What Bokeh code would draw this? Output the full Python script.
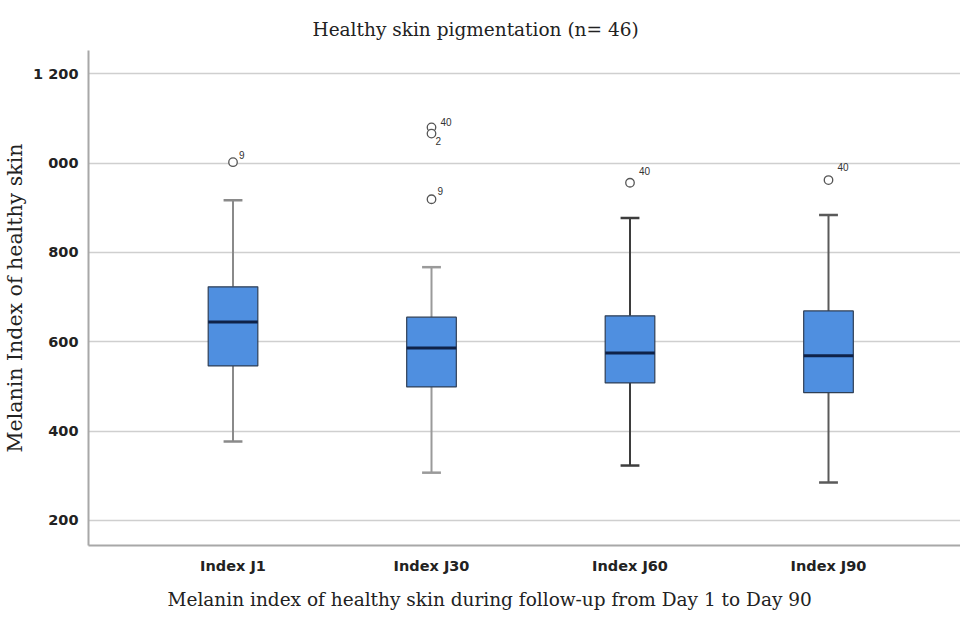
from bokeh.plotting import figure
from bokeh.embed import file_html
from bokeh.resources import INLINE
from bokeh.models import ColumnDataSource, FixedTicker, Range1d, Title
from bokeh.core.properties import value

# ---- data ----
categories = ["Index J1", "Index J30", "Index J60", "Index J90"]
lower_whisker = [377, 307, 323, 285]
q1 = [546, 499, 508, 486]
median = [644, 586, 575, 569]
q3 = [723, 655, 658, 669]
upper_whisker = [917, 767, 877, 884]

outlier_group = [1, 2, 2, 2, 3, 4]
outlier_value = [1002, 1080, 1066, 919, 956, 962]
outlier_id = ["9", "40", "2", "9", "40", "40"]

y_ticks = [200, 400, 600, 800, 1000, 1200]
y_tick_labels = ["200", "400", "600", "800", "000", "1 200"]

title_text = "Healthy skin pigmentation (n= 46)"
x_label_text = "Melanin index of healthy skin during follow-up from Day 1 to Day 90"
y_label_text = "Melanin Index of healthy skin"

# ---- styles ----
BOX_W = 0.25
CAP_W = 0.095
box_fill = "#4f8fe0"
whisker_colors = ["#8a8a8a", "#9a9a9a", "#3d3d3d", "#5a5a5a"]
label_dx = [6, 9, 4, 6, 9, 9]
label_dy = [-7, -5, 7, -8, -12, -13]
SERIF = "DejaVu Serif"

xs = [i + 1 for i in range(len(categories))]

p = figure(width=960, height=619, output_backend="svg", toolbar_location=None,
           x_range=Range1d(0.272, 4.665), y_range=Range1d(144, 1252),
           min_border_left=88, min_border_right=0, min_border_top=50,
           min_border_bottom=73)
p.outline_line_color = None
p.background_fill_color = "white"

p.title.text = title_text
p.title.text_font = SERIF
p.title.text_font_style = "normal"
p.title.text_font_size = "18.5px"
p.title.text_color = "#222222"
p.title.align = "left"
p.title.offset = 224
p.title.standoff = 21

# grid
p.xgrid.grid_line_color = None
p.ygrid.ticker = FixedTicker(ticks=y_ticks)
p.ygrid.grid_line_color = "#cfcfcf"
p.ygrid.grid_line_width = 1.6

# axes
p.yaxis.ticker = FixedTicker(ticks=y_ticks)
p.yaxis.major_label_overrides = {t: l for t, l in zip(y_ticks, y_tick_labels)}
p.xaxis.ticker = FixedTicker(ticks=xs)
p.xaxis.major_label_overrides = {x: c for x, c in zip(xs, categories)}
for ax in (p.xaxis, p.yaxis):
    ax.axis_line_color = "#a8a8a8"
    ax.axis_line_width = 2
    ax.major_tick_line_color = None
    ax.minor_tick_line_color = None
    ax.major_label_text_font = "DejaVu Sans"
    ax.major_label_text_font_style = "bold"
    ax.major_label_text_font_size = "14.5px"
    ax.major_label_text_color = "#222222"
    ax.axis_label_text_font = SERIF
    ax.axis_label_text_font_style = "normal"
    ax.axis_label_text_color = "#222222"
p.yaxis.major_label_standoff = 4
p.xaxis.major_label_standoff = 6
p.yaxis.axis_label = y_label_text
p.yaxis.axis_label_text_font_size = "20.5px"
p.yaxis.axis_label_standoff = 3

xlab = Title(text=x_label_text, align="left", offset=79, standoff=20,
             text_font=SERIF, text_font_style="normal", text_font_size="18.5px",
             text_color="#222222")
p.add_layout(xlab, "below")

src = ColumnDataSource(dict(
    x=xs, lw=lower_whisker, q1=q1, med=median, q3=q3, uw=upper_whisker,
    wc=whisker_colors,
    cl=[x - CAP_W / 2 for x in xs], cr=[x + CAP_W / 2 for x in xs],
    bl=[x - BOX_W / 2 for x in xs], br=[x + BOX_W / 2 for x in xs],
))

# whiskers
p.segment(x0="x", y0="q3", x1="x", y1="uw", source=src, line_color="wc", line_width=2)
p.segment(x0="x", y0="q1", x1="x", y1="lw", source=src, line_color="wc", line_width=2)
p.segment(x0="cl", y0="uw", x1="cr", y1="uw", source=src, line_color="wc", line_width=2.5)
p.segment(x0="cl", y0="lw", x1="cr", y1="lw", source=src, line_color="wc", line_width=2.5)

# boxes
p.vbar(x="x", bottom="q1", top="q3", width=BOX_W, source=src,
       fill_color=box_fill, line_color="#2f3f55", line_width=1.2)
p.segment(x0="bl", y0="med", x1="br", y1="med", source=src,
          line_color="#0f2248", line_width=3)

# outliers
osrc = ColumnDataSource(dict(x=outlier_group, y=outlier_value, t=outlier_id,
                             dx=label_dx, dy=label_dy))
p.scatter(x="x", y="y", source=osrc, size=8.5, marker="circle",
          fill_color="white", line_color="#555555", line_width=1.3)
p.text(x="x", y="y", text="t", source=osrc, x_offset="dx", y_offset="dy",
       text_font=value("Liberation Sans"), text_font_size="10px",
       text_color="#333333", text_baseline="middle", text_align="left")

open("out.html", "w").write(file_html(p, INLINE))
